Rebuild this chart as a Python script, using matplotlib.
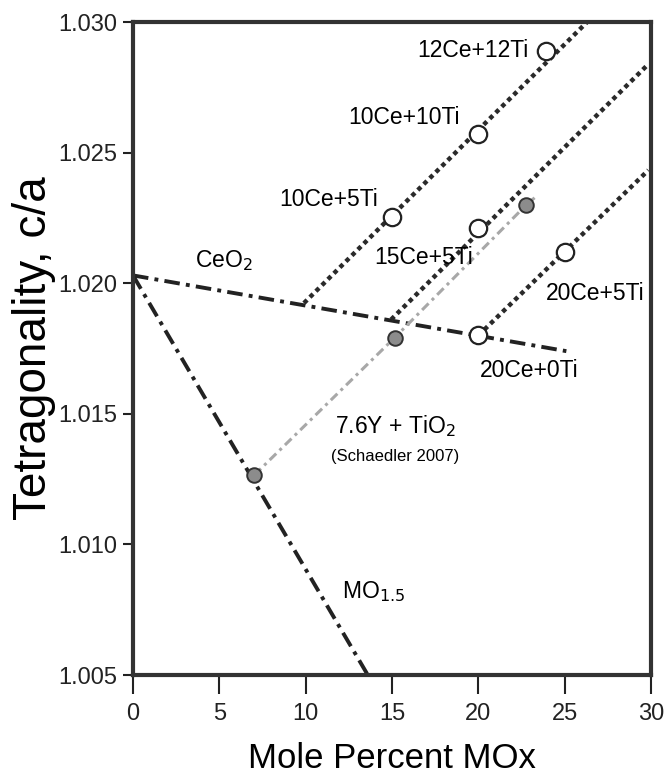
import matplotlib
matplotlib.use('Agg')
import matplotlib.pyplot as plt
from matplotlib.ticker import FormatStrFormatter

plt.rcParams['font.family'] = ['Liberation Sans Narrow', 'Liberation Sans', 'DejaVu Sans']

# composition lines (mole % MOx, c/a)
ceo2_x = [0.0, 25.1]
ceo2_y = [1.0203, 1.0174]
mo15_x = [0.0, 13.6]
mo15_y = [1.0203, 1.0050]
ti_line1_x = [9.9, 26.3]
ti_line1_y = [1.01924, 1.0300]
ti_line2_x = [14.95, 29.85]
ti_line2_y = [1.01861, 1.02839]
ti_line3_x = [20.0, 29.85]
ti_line3_y = [1.0180, 1.02433]
y_ti_x = [7.03, 15.16, 22.78, 23.45]
y_ti_y = [1.01266, 1.01792, 1.0230, 1.02338]

# measured Ce/Ti compositions (open) and Y + TiO2 (filled)
open_x = [23.9, 20.0, 15.0, 20.0, 25.0, 20.0]
open_y = [1.0289, 1.02572, 1.02255, 1.0221, 1.0212, 1.0180]
filled_x = [7.03, 15.16, 22.78]
filled_y = [1.01266, 1.01792, 1.0230]

fig = plt.figure(figsize=(6.68, 7.82), dpi=100)
ax = fig.add_axes([0.1991, 0.1368, 0.7754, 0.835])

dashdot = (0, (4.0, 1.6, 1.0, 1.6))
ax.plot(ceo2_x, ceo2_y, color='#222222', lw=2.8, linestyle=dashdot)
ax.plot(mo15_x, mo15_y, color='#222222', lw=2.8, linestyle=dashdot)
ax.plot(y_ti_x, y_ti_y, color='#a8a8a8', lw=2.2, linestyle=(0, (3, 1.5, 1, 1.5)))
for lx, ly in [(ti_line1_x, ti_line1_y), (ti_line2_x, ti_line2_y), (ti_line3_x, ti_line3_y)]:
    ax.plot(lx, ly, color='#2a2a2a', lw=3.2, linestyle=(0, (1.0, 0.9)))

ax.plot(open_x, open_y, 'o', ms=12.5, mfc='white', mec='#222222', mew=1.6, zorder=5)
ax.plot(filled_x, filled_y, 'o', ms=10.5, mfc='#8c8c8c', mec='#333333', mew=1.4, zorder=5)

fs = 16.5
ax.text(22.9, 1.0289, '12Ce+12Ti', ha='right', va='center', fontsize=fs)
ax.text(18.9, 1.02636, '10Ce+10Ti', ha='right', va='center', fontsize=fs)
ax.text(14.2, 1.02319, '10Ce+5Ti', ha='right', va='center', fontsize=fs)
ax.text(14.0, 1.0210, '15Ce+5Ti', ha='left', va='center', fontsize=fs)
ax.text(3.6, 1.02088, 'CeO$_2$', ha='left', va='center', fontsize=fs)
ax.text(23.9, 1.01962, '20Ce+5Ti', ha='left', va='center', fontsize=fs)
ax.text(20.1, 1.01666, '20Ce+0Ti', ha='left', va='center', fontsize=fs)
ax.text(15.2, 1.01452, '7.6Y + TiO$_2$', ha='center', va='center', fontsize=fs)
ax.text(15.2, 1.01335, '(Schaedler 2007)', ha='center', va='center', fontsize=12)
ax.text(12.1, 1.00818, 'MO$_{1.5}$', ha='left', va='center', fontsize=fs)

ax.set_xlim(0, 30)
ax.set_ylim(1.005, 1.030)
ax.set_xticks([0, 5, 10, 15, 20, 25, 30])
ax.set_yticks([1.005, 1.010, 1.015, 1.020, 1.025, 1.030])
ax.yaxis.set_major_formatter(FormatStrFormatter('%.3f'))
ax.tick_params(direction='out', width=1.5, labelsize=17, colors='#222222')
ax.tick_params(axis='x', length=14, pad=6)
ax.tick_params(axis='y', length=7, pad=4)
for s in ax.spines.values():
    s.set_linewidth(3)
    s.set_color('#333333')

ax.set_xlabel('Mole Percent MOx', fontsize=25, family=['Liberation Sans', 'DejaVu Sans'])
ax.set_ylabel('Tetragonality, c/a', fontsize=33, family=['Liberation Sans', 'DejaVu Sans'])
ax.xaxis.set_label_coords(0.5, -0.102)
ax.yaxis.set_label_coords(-0.148, 0.5)

fig.savefig('out.png', dpi=100)
